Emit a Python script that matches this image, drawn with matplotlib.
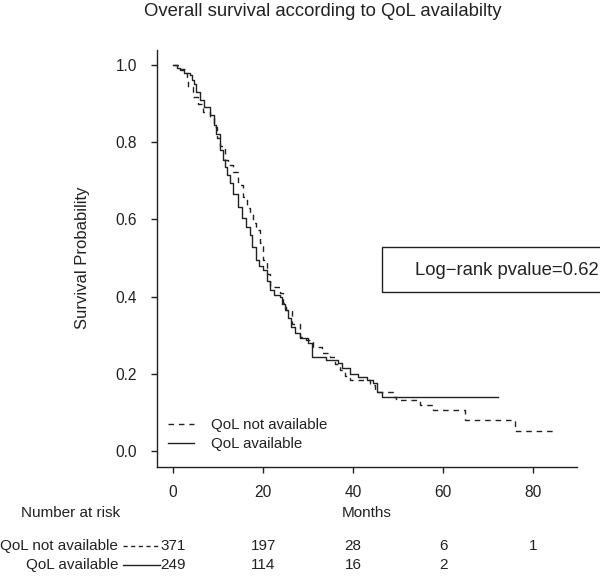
import matplotlib
matplotlib.use("Agg")
import matplotlib.pyplot as plt
from matplotlib.lines import Line2D
from matplotlib.patches import Rectangle
import matplotlib.transforms as mtransforms

plt.rcParams['font.family'] = ['Liberation Sans', 'DejaVu Sans']

# ---------------- data ----------------
title = "Overall survival according to QoL availabilty"
group_names = ["QoL not available", "QoL available"]

# QoL not available (dashed) Kaplan-Meier steps
t_not = [0, 1.5, 2.6, 3.0, 3.3, 4.4, 5.5, 6.7, 8.2, 9.0, 9.8, 10.4, 11.5, 12.3,
         13.3, 14.5, 15.6, 16.5, 17.0, 17.8, 18.5, 19.3, 20.0, 20.8, 21.5, 23.7,
         24.5, 25.2, 26.5, 28.2, 29.6, 31.1, 33.0, 34.8, 36.0, 37.0, 38.2, 39.3,
         43.7, 44.8, 48.9, 49.6, 54.8, 57.8, 64.8, 75.9, 85.2]
s_not = [1.0, 0.99, 0.978, 0.96, 0.944, 0.918, 0.90, 0.879, 0.865, 0.84, 0.81,
         0.79, 0.754, 0.74, 0.723, 0.69, 0.659, 0.63, 0.616, 0.59, 0.573, 0.54,
         0.495, 0.46, 0.426, 0.41, 0.385, 0.365, 0.33, 0.296, 0.287, 0.27, 0.255,
         0.245, 0.225, 0.21, 0.195, 0.184, 0.171, 0.154, 0.141, 0.133, 0.12,
         0.107, 0.081, 0.052, 0.052]

# QoL available (solid) Kaplan-Meier steps
t_av = [0, 1.0, 1.5, 2.5, 3.7, 4.2, 4.6, 5.2, 5.9, 6.8, 8.2, 9.0, 9.6, 10.4,
        11.0, 11.5, 12.1, 12.6, 13.4, 14.4, 15.3, 16.3, 17.0, 17.6, 18.5, 19.2,
        20.0, 20.8, 21.5, 22.5, 23.7, 24.3, 24.8, 25.5, 26.3, 27.2, 28.2, 30.0,
        30.8, 34.0, 36.7, 37.5, 39.3, 41.0, 43.0, 44.4, 45.2, 46.3, 72.2]
s_av = [1.0, 0.993, 0.987, 0.98, 0.974, 0.96, 0.95, 0.93, 0.91, 0.89, 0.87,
        0.845, 0.82, 0.78, 0.755, 0.735, 0.715, 0.695, 0.665, 0.633, 0.605,
        0.58, 0.56, 0.53, 0.495, 0.48, 0.469, 0.44, 0.417, 0.405, 0.40, 0.38,
        0.365, 0.345, 0.322, 0.305, 0.292, 0.279, 0.245, 0.236, 0.228, 0.215,
        0.20, 0.192, 0.184, 0.176, 0.154, 0.141, 0.141]

risk_times = [0, 20, 40, 60, 80]
risk_not = [371, 197, 28, 6, 1]
risk_av = [249, 114, 16, 2]

x_ticks = [0, 20, 40, 60, 80]
y_ticks = [0.0, 0.2, 0.4, 0.6, 0.8, 1.0]
pvalue_text = "Log\u2212rank pvalue=0.62"

# ---------------- figure ----------------
W, H = 600, 578
fig = plt.figure(figsize=(W / 100, H / 100), dpi=100)
INK = '#222222'


def fx(px):
    return px / W


def fy(py):
    return 1 - py / H


ax = fig.add_axes([fx(157), fy(466.7), (577 - 157) / W, (466.7 - 49.5) / H])

ax.step(t_not, s_not, where='post', color=INK, lw=1.0, linestyle=(0, (4, 3.5)),
        label=group_names[0])
ax.step(t_av, s_av, where='post', color=INK, lw=1.0, linestyle='-',
        label=group_names[1])

ax.set_xlim(-3.55, 89.7)
ax.set_ylim(-0.04, 1.04)
ax.set_xticks(x_ticks)
ax.set_xticklabels([str(v) for v in x_ticks])
ax.set_yticks(y_ticks)
ax.set_yticklabels([f"{v:.1f}" for v in y_ticks])
for side in ['top', 'right']:
    ax.spines[side].set_visible(False)
for side in ['left', 'bottom']:
    ax.spines[side].set_color(INK)
    ax.spines[side].set_linewidth(1.0)
ax.tick_params(axis='both', colors=INK, labelcolor=INK, labelsize=11.2,
               length=4, width=1.0)
ax.tick_params(axis='x', pad=9.5)
ax.tick_params(axis='y', pad=10.5)

leg = ax.legend(loc='upper left', bbox_to_anchor=(fx(168), fy(418)),
                bbox_transform=fig.transFigure, frameon=False, fontsize=10.8,
                handlelength=1.75, handletextpad=1.1, labelspacing=0.35,
                borderpad=0, borderaxespad=0)
for txt in leg.get_texts():
    txt.set_color(INK)

# title
fig.text(fx(322.5), fy(11.5), title, ha='center', va='center', fontsize=13.3,
         color=INK)
# y label
fig.text(fx(83), fy(258), "Survival Probability", rotation=90, ha='center',
         va='center', fontsize=12, color=INK)
# x label
fig.text(fx(367), fy(513), "Months", ha='center', va='center', fontsize=11,
         color=INK)

# p-value box
fig.add_artist(Rectangle((fx(381.7), fy(291.7)), fx(603) - fx(381.7),
                         fy(247.3) - fy(291.7), transform=fig.transFigure,
                         fill=False, edgecolor=INK, lw=1.0, clip_on=False))
fig.text(fx(415), fy(270), pvalue_text, ha='left', va='center', fontsize=13.3,
         color=INK)

# number at risk table
fig.text(fx(21), fy(513), "Number at risk", ha='left', va='center',
         fontsize=11, color=INK)
row_y = [546, 565]
trans = mtransforms.blended_transform_factory(ax.transData, fig.transFigure)
for name, counts, yy, ls in [(group_names[0], risk_not, row_y[0], (0, (3, 2.5))),
                             (group_names[1], risk_av, row_y[1], '-')]:
    fig.text(fx(118), fy(yy), name, ha='right', va='center', fontsize=11,
             color=INK)
    fig.add_artist(Line2D([fx(123), fx(160)], [fy(yy), fy(yy)],
                          transform=fig.transFigure, color=INK, lw=1.0,
                          linestyle=ls))
    for t, c in zip(risk_times, counts):
        fig.text(t, fy(yy), str(c), transform=trans, ha='center',
                 va='center', fontsize=11, color=INK)

fig.savefig("out.png", dpi=100)
